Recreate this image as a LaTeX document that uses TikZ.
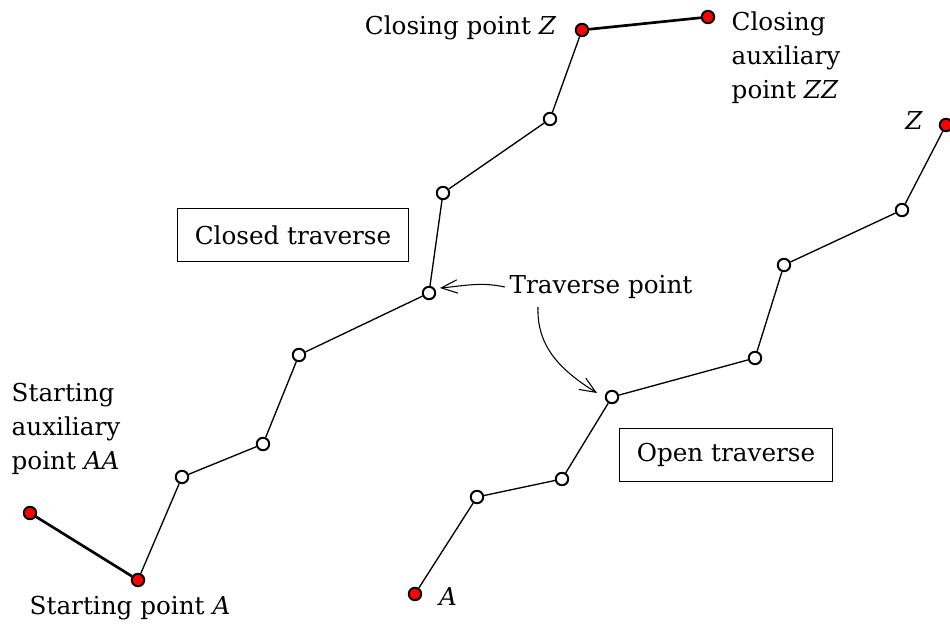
\documentclass[tikz,border=0pt]{standalone}
\usepackage{fontspec}
\setmainfont{DejaVu Serif}
\usetikzlibrary{calc,arrows.meta}
\newcommand{\ital}[1]{\textit{#1}}
\begin{document}
\begin{tikzpicture}[x=0.75pt,y=-0.75pt,
  every node/.style={font=\fontsize{18.5}{25.5}\selectfont},
  pt/.style={circle,draw,line width=1.5pt,minimum size=9.3pt,inner sep=0pt,fill=white},
  fixpt/.style={pt,fill=red},
  leg/.style={line width=1pt},
  tie/.style={line width=2pt},
  tag/.style={draw,line width=0.8pt,inner xsep=13pt,inner ysep=0pt,minimum height=40pt},
  note/.style={-{Straight Barb[length=12pt,width=10pt]},line width=0.8pt}]
\useasboundingbox (0,0) rectangle (950,628);

% closed traverse
\node[fixpt] (c0) at (30,513) {};
\node[fixpt] (c1) at (138,580) {};
\node[pt] (c2) at (182,477) {};
\node[pt] (c3) at (263,444) {};
\node[pt] (c4) at (299,355) {};
\node[pt] (c5) at (429,293) {};
\node[pt] (c6) at (443,193) {};
\node[pt] (c7) at (550,119) {};
\node[fixpt] (c8) at (582,30) {};
\node[fixpt] (c9) at (708,17) {};

% open traverse
\node[fixpt] (o0) at (415,594) {};
\node[pt] (o1) at (477,497) {};
\node[pt] (o2) at (562,479) {};
\node[pt] (o3) at (612,397) {};
\node[pt] (o4) at (755,358) {};
\node[pt] (o5) at (784,265) {};
\node[pt] (o6) at (902,210) {};
\node[fixpt] (o7) at (946,125) {};

\draw[tie] (c0) -- (c1);
\draw[leg] (c1) -- (c2) -- (c3) -- (c4) -- (c5) -- (c6) -- (c7) -- (c8);
\draw[tie] (c8) -- (c9);
\draw[leg] (o0) -- (o1) -- (o2) -- (o3) -- (o4) -- (o5) -- (o6) -- (o7);

% labels
\node[anchor=east] (lz) at (561,28) {Closing point \ital{Z}};
\node[anchor=north west,align=left] (lzz) at (727,7) {Closing\\auxiliary\\point \ital{ZZ}};
\node (lz2) at (914,121) {\ital{Z}};
\node[anchor=north west,align=left] (laa) at (7,378) {Starting\\auxiliary\\point \ital{AA}};
\node[anchor=west] (la) at (25,608) {Starting point \ital{A}};
\node (la2) at (448,597) {\ital{A}};
\node[tag] (closed) at (293,235) {Closed traverse};
\node[tag] (open) at (726,455) {Open traverse};
\node[anchor=west] (tp) at (505,287) {Traverse point};

\coordinate (tpfoot) at (538,307);
\draw[note] (tp.west) to[out=168,in=5] ($(c5)+(11,-5)$);
\draw[note] (tpfoot) to[out=268,in=148] ($(o3)+(-15,-4)$);
\end{tikzpicture}
\end{document}
